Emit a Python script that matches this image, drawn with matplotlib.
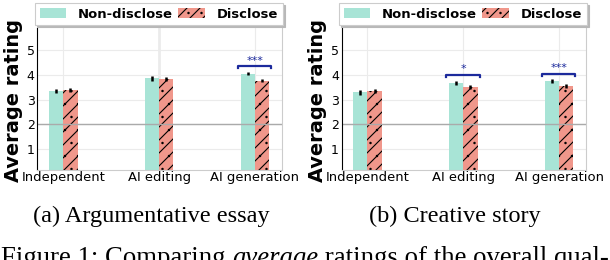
import numpy as np
import matplotlib
matplotlib.use('Agg')
import matplotlib.pyplot as plt
import matplotlib.hatch as mhatch

# Values
categories = ['Independent', 'AI editing', 'AI generation']
essay_nondisclose = [3.34, 3.86, 4.05]
essay_disclose = [3.37, 3.83, 3.76]
essay_err_nd = [0.09, 0.09, 0.07]
essay_err_d = [0.08, 0.08, 0.06]
story_nondisclose = [3.29, 3.67, 3.75]
story_disclose = [3.33, 3.50, 3.55]
story_err_nd = [0.10, 0.08, 0.07]
story_err_d = [0.08, 0.09, 0.07]
# (category index, bracket height, stars)
essay_sig = [(2, 4.35, '***')]
story_sig = [(1, 3.99, '*'), (2, 4.05, '***')]
subcaptions = ['(a) Argumentative essay', '(b) Creative story']

c_nd = '#a8e4d6'
c_d = '#f0978b'
c_sig = '#1c2a9c'
w = 0.15

# Lower dpi with a bigger figure -> denser hatch; S keeps text/lines the same size in pixels
DPI = 78
S = 100 / DPI

mhatch.SmallFilledCircles.size = 0.05
plt.rcParams['hatch.linewidth'] = 0.8 * S

fig = plt.figure(figsize=(610 / DPI, 260 / DPI), dpi=DPI)


def draw_panel(rect, nd, d, err_nd, err_d, sig, dark_vline):
    ax = fig.add_axes(rect)
    x = np.arange(len(categories))
    ax.set_xlim(-0.27, 2.28)
    ax.set_ylim(0.14, 5.9)
    ax.set_axisbelow(True)
    ax.grid(True, color='#ebebeb', lw=0.8 * S)
    if dark_vline:
        ax.axvline(1, color='#aaaaaa', lw=1.0 * S, zorder=0.5)
    ax.bar(x - w / 2, nd, w, color=c_nd, label='Non-disclose', zorder=2)
    ax.bar(x + w / 2, d, w, color=c_d, hatch='//.', edgecolor='black', lw=0,
           label='Disclose', zorder=2)
    ax.errorbar(x - w / 2, nd, yerr=err_nd, fmt='none', ecolor='black', elinewidth=1.8 * S, zorder=3)
    ax.errorbar(x + w / 2, d, yerr=err_d, fmt='none', ecolor='black', elinewidth=1.8 * S, zorder=3)
    ax.axhline(2, color='#aaaaaa', lw=1.0 * S, zorder=2.5)

    for i, h, stars in sig:
        x0, x1 = i - 0.18, i + 0.17
        ax.plot([x0, x0, x1, x1], [h - 0.08, h, h, h - 0.08], color=c_sig, lw=1.6 * S, zorder=4)
        ax.text(i, h + 0.03, stars, color=c_sig, fontsize=8 * S, ha='center', va='bottom')

    ax.set_xticks(x)
    ax.set_xticklabels(categories, fontsize=9.5 * S)
    ax.set_yticks([1, 2, 3, 4, 5])
    ax.tick_params(axis='y', labelsize=9 * S, length=0, pad=2 * S)
    ax.tick_params(axis='x', length=0, pad=1 * S)
    ax.spines['top'].set_visible(False)
    for side in ['left', 'right', 'bottom']:
        ax.spines[side].set_linewidth(0.8 * S)
    ax.spines['left'].set_color('black')
    ax.spines['right'].set_color('#cccccc')
    ax.spines['bottom'].set_color('#cccccc')
    ax.set_ylabel('Average rating', fontsize=14 * S, fontweight='bold')
    ax.yaxis.set_label_coords(-0.06, 0.49)

    leg = ax.legend(loc='lower center', bbox_to_anchor=(0.497, 1.02), ncol=2,
                    prop={'weight': 'bold', 'size': 9.5 * S},
                    frameon=True, fancybox=False, borderaxespad=0,
                    shadow={'color': '#b8b8b8', 'alpha': 1.0, 'ox': 1.5 * S, 'oy': -1.5 * S},
                    handlelength=2.0, handletextpad=0.9, columnspacing=0.4,
                    borderpad=0.35)
    leg.get_frame().set_edgecolor('#cccccc')
    leg.get_frame().set_linewidth(0.8 * S)
    return ax


ax1 = draw_panel([0.0612, 0.346, 0.4007, 0.546], essay_nondisclose, essay_disclose,
                 essay_err_nd, essay_err_d, essay_sig, True)
ax2 = draw_panel([0.560, 0.346, 0.4005, 0.546], story_nondisclose, story_disclose,
                 story_err_nd, story_err_d, story_sig, False)

serif = ['Liberation Serif', 'DejaVu Serif']
fig.text(151 / 610, 38 / 260, subcaptions[0], family=serif, fontsize=17.5 * S,
         ha='center', va='baseline')
fig.text(454.5 / 610, 38 / 260, subcaptions[1], family=serif, fontsize=17.5 * S,
         ha='center', va='baseline')

# Main caption, cut off at the bottom edge as in the reference
renderer = fig.canvas.get_renderer()
xpos = 1 / 610
for part, style in [('Figure 1: Comparing ', 'normal'), ('average', 'italic'),
                    (' ratings of the overall qual-', 'normal')]:
    t = fig.text(xpos, -5 / 260, part, family=serif, fontsize=19.3 * S, style=style,
                 ha='left', va='baseline')
    bb = t.get_window_extent(renderer)
    xpos = bb.x1 / fig.bbox.width

fig.savefig('out.png', dpi=DPI)
